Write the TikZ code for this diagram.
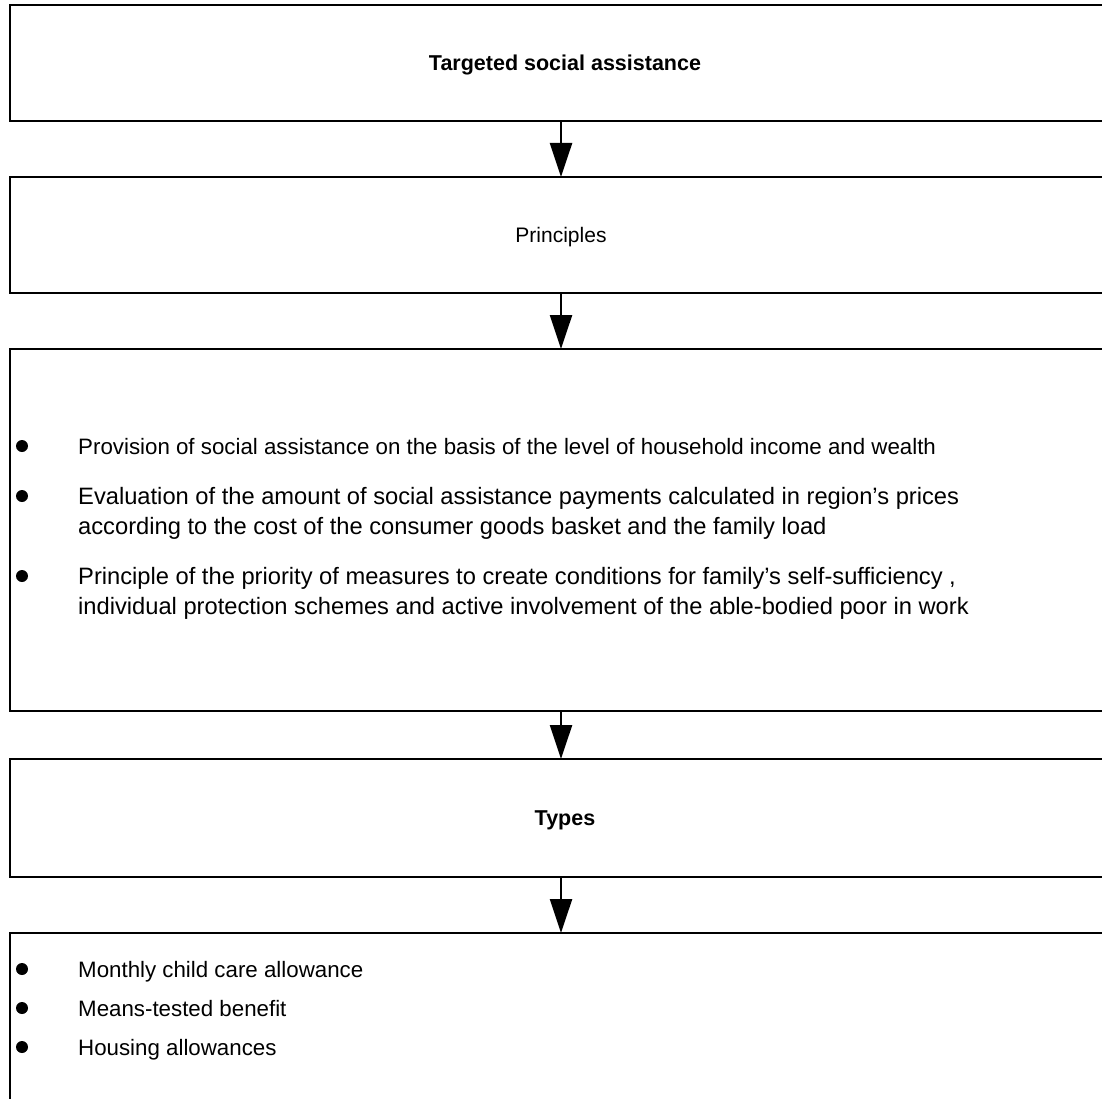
\documentclass[tikz,border=0pt]{standalone}
\usepackage{fontspec}
\setmainfont{Liberation Sans}
\usetikzlibrary{arrows.meta}
\begin{document}
\begin{tikzpicture}[x=1pt,y=-1pt,
  box/.style={draw=black,line width=2.4pt,rectangle,inner sep=0pt,outer sep=0pt,
    minimum width=1110pt,anchor=north west,align=center},
  dot/.style={circle,fill=black,inner sep=0pt,minimum size=12pt},
  txt/.style={anchor=mid west,inner sep=0pt},
  small/.style={font=\fontsize{22.3}{26}\selectfont},
  big/.style={font=\fontsize{23.7}{30}\selectfont},
  arr/.style={line width=2.4pt,-{Triangle[length=34pt,width=22pt]}}]
\useasboundingbox (0,0) rectangle (1102,1099);
\clip (0,0) rectangle (1102,1099);
\coordinate (axis) at (561,0);
% boxes
\node[box,minimum height=116pt] (b1) at (10,5) {};
\node[font=\bfseries\fontsize{21.5}{26}\selectfont] (b1t) at ([yshift=-2pt]b1.center) {Targeted social assistance};
\node[box,minimum height=116pt] (b2) at (10,177) {};
\node[font=\fontsize{21}{26}\selectfont] (b2t) at ([xshift=-4pt,yshift=-2pt]b2.center) {Principles};
\node[box,minimum height=362pt] (b3) at (10,349) {};
\node[box,minimum height=118pt] (b4) at (10,759) {};
\node[font=\bfseries\fontsize{21.5}{26}\selectfont] (b4t) at ([yshift=-2pt]b4.center) {Types};
\node[box,minimum height=200pt] (b5) at (10,933) {};
% arrows
\draw[arr] (b1.south -| axis) -- (b2.north -| axis);
\draw[arr] (b2.south -| axis) -- (b3.north -| axis);
\draw[arr] (b3.south -| axis) -- (b4.north -| axis);
\draw[arr] (b4.south -| axis) -- (b5.north -| axis);
% principles list
\node[dot] (p1d) at (22,446) {};
\node[txt,small] (p1) at (78,452) {Provision of social assistance on the basis of the level of household income and wealth};
\node[dot] (p2d) at (22,496) {};
\node[txt,big] (p2a) at (78,502) {Evaluation of the amount of social assistance payments calculated in region’s prices};
\node[txt,big] (p2b) at (78,532) {according to the cost of the consumer goods basket and the family load};
\node[dot] (p3d) at (22,576) {};
\node[txt,big] (p3a) at (78,582) {Principle of the priority of measures to create conditions for family’s self-sufficiency ,};
\node[txt,big] (p3b) at (78,612) {individual protection schemes and active involvement of the able-bodied poor in work};
% types list
\node[dot] (t1d) at (22,969) {};
\node[txt,small] (t1) at (78,975) {Monthly child care allowance};
\node[dot] (t2d) at (22,1008) {};
\node[txt,small] (t2) at (78,1014) {Means-tested benefit};
\node[dot] (t3d) at (22,1047) {};
\node[txt,small] (t3) at (78,1053) {Housing allowances};
\end{tikzpicture}
\end{document}
